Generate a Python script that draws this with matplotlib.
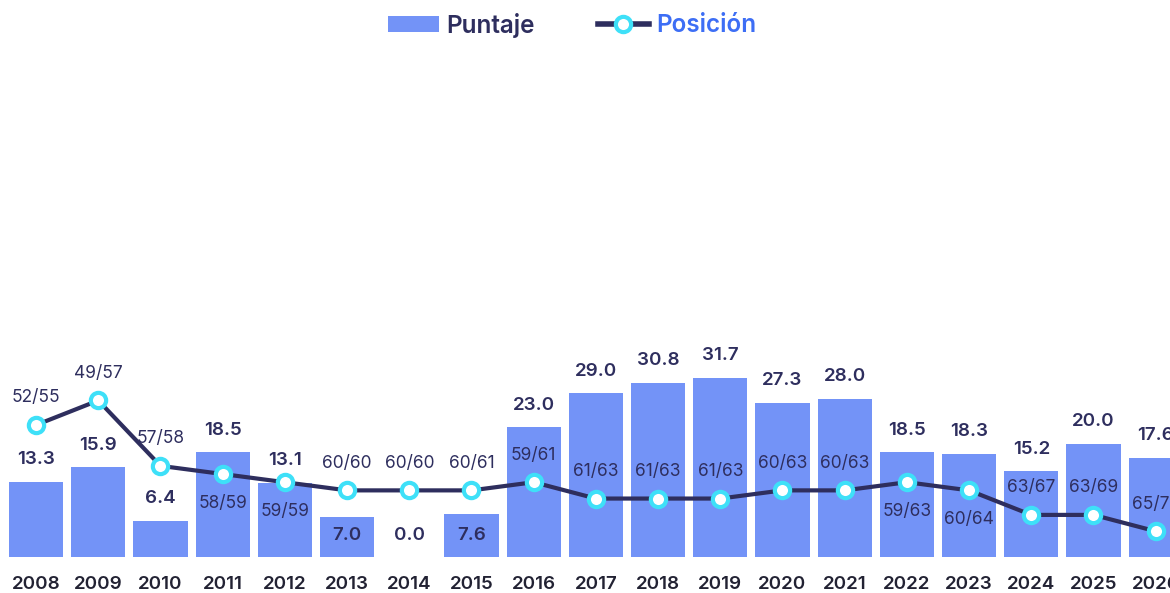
import matplotlib
matplotlib.use('Agg')
import matplotlib.pyplot as plt
from matplotlib.patches import Patch
from matplotlib.lines import Line2D

# ============================================================================
# DATA
# ============================================================================

years = ['2008', '2009', '2010', '2011', '2012', '2013', '2014', '2015', '2016',
         '2017', '2018', '2019', '2020', '2021', '2022', '2023', '2024', '2025', '2026']
puntaje = [13.3, 15.9, 6.4, 18.5, 13.1, 7.0, 0.0, 7.6, 23.0,
           29.0, 30.8, 31.7, 27.3, 28.0, 18.5, 18.3, 15.2, 20.0, 17.6]
posicion = [52, 49, 57, 58, 59, 60, 60, 60, 59, 61, 61, 61, 60, 60, 59, 60, 63, 63, 65]
total = [55, 57, 58, 59, 59, 60, 60, 61, 61, 63, 63, 63, 63, 63, 63, 64, 67, 69, 70]
# rank label under the marker instead of above
label_below = [False, False, False, True, True, False, False, False, False,
               False, False, False, False, False, True, True, False, False, False]
# score label sits at the bar foot (inside the bar) to avoid the line
label_inside = [False, False, False, False, False, True, False, True, False,
                False, False, False, False, False, False, False, False, False, False]

# ============================================================================
# STYLE
# ============================================================================

BAR_COLOR = '#7393f7'
LINE_COLOR = '#2e2e5e'
MARKER_EDGE = '#3ee0f8'
TEXT_COLOR = '#2e2e5e'
BLUE_TEXT = '#3d6ef5'

plt.rcParams['font.family'] = ['Inter', 'DejaVu Sans']

fig = plt.figure(figsize=(11.7, 5.93), dpi=100)
ax = fig.add_axes([0, (593 - 557) / 593, 1, 557 / 593])

x = list(range(len(years)))
ax.bar(x, puntaje, width=0.87, color=BAR_COLOR, zorder=1)
ax.set_xlim(-0.58, 18.23)
ax.set_ylim(0, 557 / 5.65)

ax.set_xticks(x)
ax.set_xticklabels(years, fontsize=13.5, fontweight='semibold', color='#222233')
ax.tick_params(axis='x', length=0, pad=14)
ax.set_yticks([])
for s in ax.spines.values():
    s.set_visible(False)

# rank line on an inverted secondary axis
ax2 = ax.twinx()
ax2.set_ylim((557 + 5.25) / 8.25, 0)
ax2.plot(x, posicion, color=LINE_COLOR, linewidth=3, zorder=3,
         marker='o', markersize=11, markerfacecolor='white',
         markeredgecolor=MARKER_EDGE, markeredgewidth=3)
ax2.set_yticks([])
for s in ax2.spines.values():
    s.set_visible(False)

for i, (p, t) in enumerate(zip(posicion, total)):
    dy = -29 if label_below[i] else 27
    ax2.annotate(f'{p}/{t}', (i, p), xytext=(0, dy), textcoords='offset pixels',
                 ha='center', va='center', fontsize=12.5, color=TEXT_COLOR, zorder=5)

# bar value labels drawn on top of the line
for i, v in enumerate(puntaje):
    anchor = 0 if label_inside[i] else v
    ax2.annotate(f'{v:.1f}', (i, anchor), xycoords=ax.transData, xytext=(0, 22),
                 textcoords='offset pixels', ha='center', va='center',
                 fontsize=13.5, fontweight='semibold', color=TEXT_COLOR, zorder=5)

handles = [Patch(facecolor=BAR_COLOR, edgecolor='none'),
           Line2D([0], [0], color=LINE_COLOR, linewidth=4, marker='o', markersize=11,
                  markerfacecolor='white', markeredgecolor=MARKER_EDGE, markeredgewidth=3)]
leg = fig.legend(handles, ['Puntaje', 'Posición'], loc='center',
                 bbox_to_anchor=(572 / 1170, 1 - 25 / 593),
                 ncol=2, frameon=False, fontsize=17.5, handlelength=2.1, handleheight=0.6,
                 columnspacing=2.6, handletextpad=0.3)
for txt, c in zip(leg.get_texts(), [TEXT_COLOR, BLUE_TEXT]):
    txt.set_color(c)
    txt.set_fontweight('semibold')

fig.savefig('out.png', dpi=100)
